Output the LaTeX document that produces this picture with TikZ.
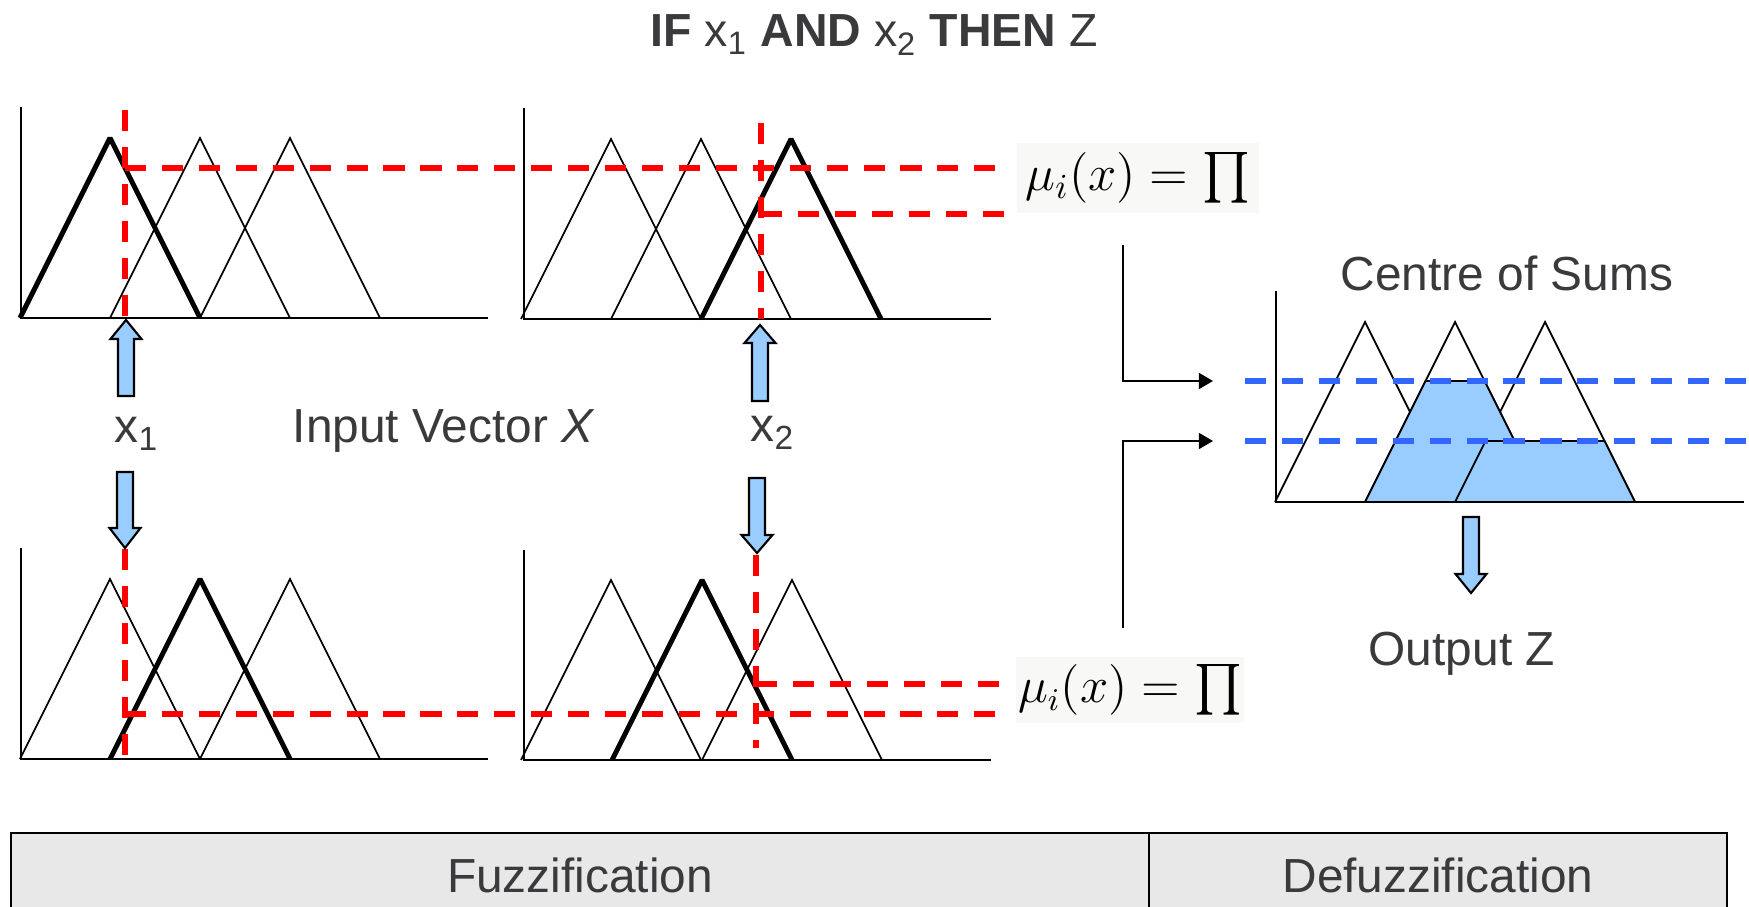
\documentclass[tikz,border=0pt]{standalone}
\usepackage{amsmath}
\usepackage{fontspec}
\setmainfont{Liberation Sans}
\usetikzlibrary{arrows.meta}
\definecolor{cutred}{RGB}{255,0,0}
\definecolor{levelblue}{RGB}{51,102,255}
\definecolor{fillblue}{RGB}{153,204,255}
\definecolor{labelgrey}{RGB}{58,58,60}
\definecolor{bandgrey}{RGB}{232,232,232}
\definecolor{mubg}{RGB}{248,248,246}
\tikzset{
  every node/.style={font=\fontsize{13.6}{16}\selectfont, text=labelgrey, inner sep=0pt},
  axis/.style={line width=0.7pt},
  mf/.style={line width=0.5pt},
  mfbold/.style={line width=1.4pt, line join=bevel},
  cut/.style={cutred, line width=1.7pt, dash pattern=on 6pt off 4.5pt},
  level/.style={levelblue, line width=1.7pt, dash pattern=on 6pt off 4.5pt},
  feed/.style={-{Triangle[length=4pt,width=4.5pt]}, line width=0.6pt},
  blockarrow/.style={fill=fillblue, draw=black, line width=0.6pt},
  mubox/.style={fill=mubg, text=black},
}
% triangular membership function: [style] left foot x, base y
\newcommand{\mfun}[3][mf]{\draw[#1] (#2,#3) -- ++(90,-180) -- ++(90,180);}
% block arrow: centre x, tail y, head base y, tip y
\newcommand{\blockarr}[4]{\draw[blockarrow] (#1-8,#2) -- (#1-8,#3) -- (#1-15.5,#3) -- (#1,#4) -- (#1+15.5,#3) -- (#1+8,#3) -- (#1+8,#2) -- cycle;}

\begin{document}
\begin{tikzpicture}[x=0.01cm, y=-0.01cm]
  \useasboundingbox (0,0) rectangle (1749,907);

  % rule
  \node[anchor=base, font=\fontsize{13.2}{16}\selectfont] (rule) at (874,47)
    {\textbf{IF} x\textsubscript{1} \textbf{AND} x\textsubscript{2} \textbf{THEN} Z};

  % fuzzification, x1 and x2 for rule one
  \mfun[mfbold]{20}{318} \mfun{110}{318} \mfun{200}{318}
  \draw[axis] (21,107) -- (21,318) -- (488,318);
  \mfun{521}{319} \mfun{611}{319} \mfun[mfbold]{701}{319}
  \draw[axis] (524,108) -- (524,319) -- (991,319);

  % fuzzification, x1 and x2 for rule two
  \mfun{20}{759} \mfun[mfbold]{110}{759} \mfun{200}{759}
  \draw[axis] (21,548) -- (21,759) -- (488,759);
  \mfun{521}{760} \mfun[mfbold]{612}{760} \mfun{702}{760}
  \draw[axis] (524,550) -- (524,760) -- (991,760);

  % cuts
  \draw[cut] (125,110) -- (125,318);
  \draw[cut] (125,168) -- (1007,168);
  \draw[cut] (761,123) -- (761,319);
  \draw[cut] (761,214) -- (1005,214);
  \draw[cut] (125,549) -- (125,759);
  \draw[cut] (125,714) -- (1005,714);
  \draw[cut] (756,555) -- (756,748);
  \draw[cut] (756,684) -- (1005,684);

  \node[mubox, minimum width=2.42cm, minimum height=0.69cm] (mutop) at (1138,178)
    {\fontsize{14.5}{18}\selectfont$\mu_i(x) = \prod$};
  \node[mubox, minimum width=2.27cm, minimum height=0.66cm] (mubot) at (1130,690)
    {\fontsize{13.5}{17}\selectfont$\mu_i(x) = \prod$};

  % inputs
  \blockarr{126}{396}{339}{320}
  \blockarr{125}{472}{528}{548}
  \blockarr{760}{401}{343}{325}
  \blockarr{757}{478}{535}{553}
  \node[anchor=base west] (xone) at (114,443) {x\textsubscript{1}};
  \node[anchor=base west] (invec) at (292,443) {Input Vector \textit{X}};
  \node[anchor=base west] (xtwo) at (750,442) {x\textsubscript{2}};

  % defuzzification
  \node[anchor=base west] (cos) at (1340,291) {Centre of Sums};
  \mfun{1275}{502} \mfun{1365}{502} \mfun{1455}{502}
  \draw[mf, fill=fillblue] (1365,502) -- (1425.5,381) -- (1484.5,381) -- (1545,502) -- cycle;
  \draw[mf, fill=fillblue] (1455,502) -- (1485.5,441) -- (1604.5,441) -- (1635,502) -- cycle;
  \draw[axis] (1276,291) -- (1276,502) -- (1744,502);
  \draw[level] (1245,381) -- (1749,381);
  \draw[level] (1245,441) -- (1749,441);

  \coordinate (feedtop) at (1123,245);
  \coordinate (feedbot) at (1123,628);
  \coordinate (sumhi) at (1213,381);
  \coordinate (sumlo) at (1213,441);
  \draw[feed] (feedtop) |- (sumhi);
  \draw[feed] (feedbot) |- (sumlo);

  \blockarr{1471}{517}{574}{593}
  \node[anchor=base west] (out) at (1368,665) {Output Z};

  % stages
  \fill[bandgrey] (11,833) rectangle (1727,907);
  \draw[line width=0.8pt] (11,907) -- (11,833) -- (1727,833) -- (1727,907);
  \draw[line width=0.6pt] (1149,833) -- (1149,907);
  \node[anchor=base] (fuzz) at (580,892) {Fuzzification};
  \node[anchor=base] (defuzz) at (1438,892) {Defuzzification};
\end{tikzpicture}
\end{document}
